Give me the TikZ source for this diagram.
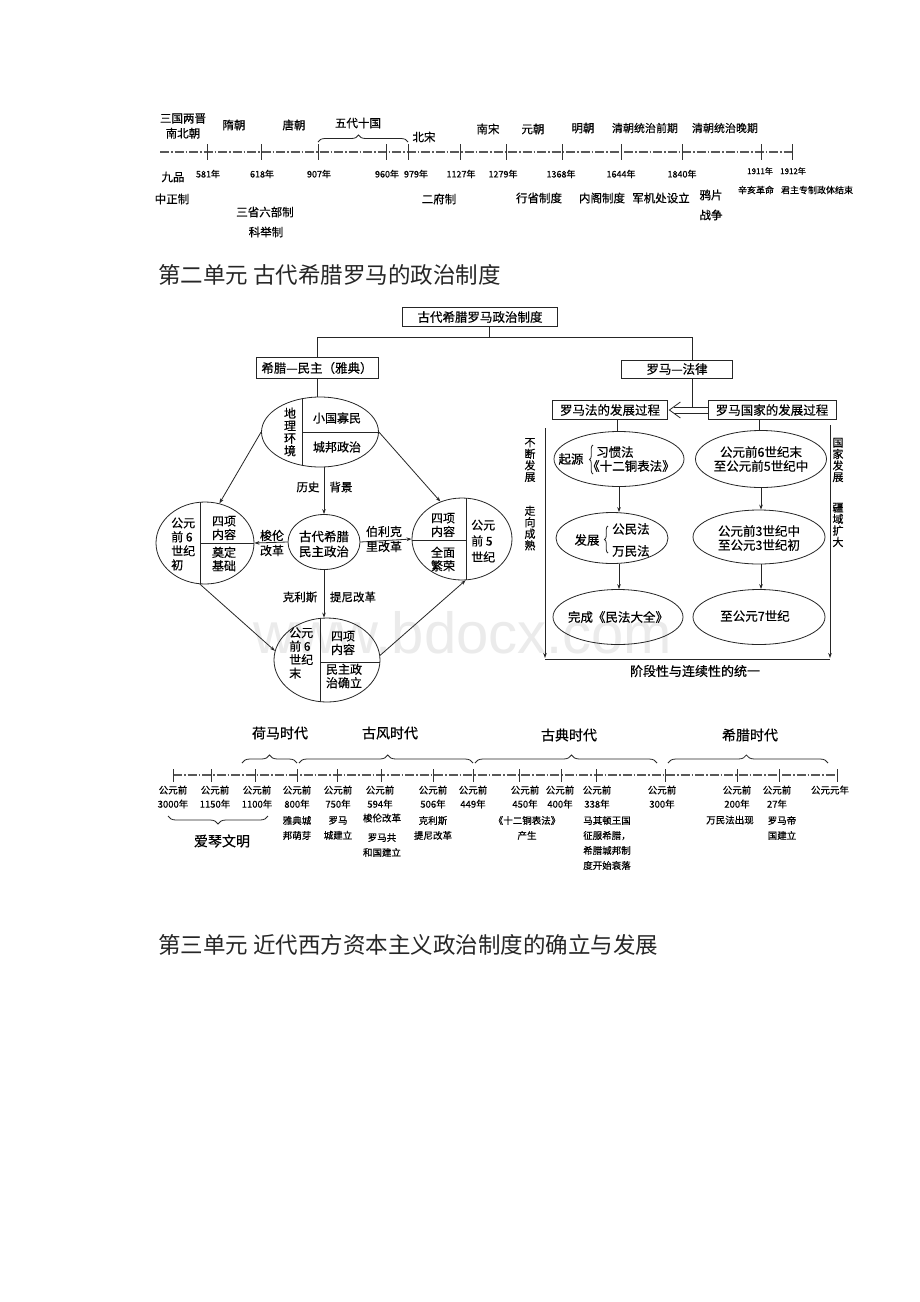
\documentclass[tikz,border=0pt]{standalone}
\usepackage{fontspec}
\setmainfont{Noto Sans CJK SC}
\newfontfamily\dfont{Noto Sans CJK SC}[FakeBold=0.5]
\newfontfamily\wmfont{Liberation Sans}
\newcommand{\dfz}[2]{\dfont\fontsize{#1}{#2}\selectfont}
\usetikzlibrary{shapes.geometric,arrows.meta,decorations.pathreplacing,calc}
\begin{document}
\begin{tikzpicture}[x=1pt,y=-1pt,
 ln/.style={line width=0.8pt, draw=black!85},
 arr/.style={ln, -{Stealth[length=5pt,width=3.6pt]}},
 tline/.style={line width=1.2pt, draw=black!65, dash pattern=on 9pt off 2pt on 1.5pt off 2pt},
 tick/.style={line width=0.9pt, draw=black!80},
 dyn/.style={inner sep=0pt, align=center, font=\dfz{11.5}{16}},
 yr/.style={inner sep=0pt, font=\dfz{9}{10}},
 small/.style={inner sep=0pt, align=center, font=\dfz{9}{11}},
 head/.style={inner sep=0pt, anchor=west, font=\fontsize{22.5}{24}\selectfont, text=black!85},
 box/.style={draw=black!85, line width=0.8pt, inner sep=0pt, minimum height=19pt, font=\dfz{12.5}{14}},
 ell/.style={draw=black!85, ellipse, line width=0.8pt, inner sep=0pt},
 etx/.style={inner sep=0pt, align=center, font=\dfz{12}{14}},
 qtx/.style={inner sep=0pt, align=center, font=\dfz{12.5}{14}},
 vtx/.style={inner sep=0pt, align=center, font=\dfz{11}{11.5}},
 bl/.style={inner sep=0pt, align=center, font=\dfz{9.5}{14}},
 bd/.style={inner sep=0pt, align=center, font=\dfz{9.5}{15}},
 per/.style={inner sep=0pt, font=\dfz{14}{16}},
 brc/.style={ln, decorate}
]
\fill[white] (0,0) rectangle (920,1302);
\useasboundingbox (0,0) rectangle (920,1302);

% watermark
\node[anchor=base west, inner sep=0pt, font=\wmfont\fontsize{58}{60}\selectfont, text=black!8] (wm) at (253,653) {www.bdocx.com};

% ---------------- top timeline ----------------
\coordinate (ta) at (160,152);
\coordinate (tb) at (792,152);
\draw[tline] (ta) -- (tb);
\foreach \x in {207,261,318,386,408,460,506,562,621,682,761,792} \draw[tick] (\x,144) -- (\x,160);
\draw[brc, decoration={brace, amplitude=7pt, aspect=0.45}] (318,142) -- (408,142);

\node[dyn] (n1) at (183,126) {三国两晋\\[-1pt]南北朝};
\node[dyn] (n2) at (234,125) {隋朝};
\node[dyn] (n3) at (294,125) {唐朝};
\node[dyn] (n4) at (358,123) {五代十国};
\node[dyn] (n5) at (424,137) {北宋};
\node[dyn] (n6) at (488,129) {南宋};
\node[dyn] (n7) at (533,129) {元朝};
\node[dyn] (n8) at (583,128) {明朝};
\node[dyn, font=\dfz{11}{16}] (n9) at (645,128) {清朝统治前期};
\node[dyn, font=\dfz{11}{16}] (n10) at (725,128) {清朝统治晚期};

\node[dyn] (c1) at (173,177) {九品};
\node[dyn] (c2) at (172,199) {中正制};
\node[yr] (y581) at (208,174) {581年};
\node[yr] (y618) at (262,174) {618年};
\node[yr] (y907) at (319,174) {907年};
\node[yr] (y960) at (387,174) {960年};
\node[yr] (y979) at (416,174) {979年};
\node[yr] (y1127) at (461,174) {1127年};
\node[yr] (y1279) at (503,174) {1279年};
\node[yr] (y1368) at (561,174) {1368年};
\node[yr] (y1644) at (621,174) {1644年};
\node[yr] (y1840) at (682,174) {1840年};
\node[yr, font=\dfz{8}{9}] (y1911) at (760,171) {1911年};
\node[yr, font=\dfz{8}{9}] (y1912) at (793,171) {1912年};
\node[dyn] (c3) at (265,212) {三省六部制};
\node[dyn] (c4) at (266,232) {科举制};
\node[dyn] (c5) at (439,199) {二府制};
\node[dyn] (c6) at (539,198) {行省制度};
\node[dyn] (c7) at (602,198) {内阁制度};
\node[dyn] (c8) at (661,198) {军机处设立};
\node[dyn, font=\dfz{11.5}{20}] (c9) at (711,205) {鸦片\\战争};
\node[small] (c10) at (756,190) {辛亥革命};
\node[small] (c11) at (817,190) {君主专制政体结束};

% ---------------- headings ----------------
\node[head] (h2) at (158,275) {第二单元 古代希腊罗马的政治制度};
\node[head] (h3) at (158,945) {第三单元 近代西方资本主义政治制度的确立与发展};

% ---------------- boxes ----------------
\node[box, minimum width=155pt] (T) at (480,317) {古代希腊罗马政治制度};
\node[box, minimum width=122pt, minimum height=21pt] (G) at (317,368) {希腊—民主（雅典）};
\node[box, minimum width=111pt, minimum height=18pt] (R) at (677,369) {罗马—法律};
\node[box, minimum width=115pt] (RL) at (610,410) {罗马法的发展过程};
\node[box, minimum width=128pt] (RS) at (772,410) {罗马国家的发展过程};
\draw[ln] ($(T.south)+(9,0)$) -- ++(0,11);
\draw[ln] (G.north) -- ++(0,-19.5) -| ($(R.north)+(15,0)$);
\draw[ln] ($(R.south)+(15,0)$) -- ++(0,29);
\draw[ln] ($(RS.west)+(0,-3)$) -- ($(RL.east)+(5.6,-3)$);
\draw[ln] ($(RS.west)+(0,3)$) -- ($(RL.east)+(5.6,3)$);
\draw[ln, line join=miter] ($(RL.east)+(12.5,-8)$) -- ($(RL.east)+(1.5,0)$) -- ($(RL.east)+(12.5,8)$);

% ---------------- Roman ellipses ----------------
\node[ell, minimum width=130pt, minimum height=55pt] (Q1) at (619,459) {};
\node[ell, minimum width=131pt, minimum height=57pt] (Q2) at (761,459) {};
\node[ell, minimum width=112pt, minimum height=51pt] (Q3) at (612,538) {};
\node[ell, minimum width=132pt, minimum height=54pt] (Q4) at (759,537) {};
\node[ell, minimum width=130pt, minimum height=55pt] (Q5) at (618,617) {};
\node[ell, minimum width=132pt, minimum height=55pt] (Q6) at (759,617) {};
\draw[ln, double distance=3pt] (Q1.north |- RL.south) -- (Q1.north);
\draw[ln, double distance=3pt] (Q2.north |- RS.south) -- (Q2.north);
\draw[arr] (Q1.south) -- (Q1.south |- Q3.north);
\draw[arr] (Q1.south |- Q3.south) -- (Q1.south |- Q5.north);
\draw[arr] (Q2.south) -- (Q2.south |- Q4.north);
\draw[arr] (Q2.south |- Q4.south) -- (Q2.south |- Q6.north);

\node[qtx] (q1a) at (571,459) {起源};
\draw[brc, decoration={brace, amplitude=3.5pt}] (593,474) -- (593,445);
\node[qtx, anchor=west] (q1b) at (596,452) {习惯法};
\node[qtx, anchor=west] (q1c) at (587,466) {《十二铜表法》};
\node[qtx] (q2) at (761,459) {公元前6世纪末\\至公元前5世纪中};
\node[qtx] (q3a) at (587,540) {发展};
\draw[brc, decoration={brace, amplitude=3.5pt}] (608,553) -- (608,526);
\node[qtx, anchor=west] (q3b) at (612,529) {公民法};
\node[qtx, anchor=west] (q3c) at (612,551) {万民法};
\node[qtx] (q4) at (759,538) {公元前3世纪中\\至公元3世纪初};
\node[qtx] (q5) at (618,617) {完成《民法大全》};
\node[qtx] (q6) at (755,616) {至公元7世纪};

\coordinate (Lt) at (545,428);
\coordinate (Lb) at (545,658);
\coordinate (Rt) at (830,425);
\coordinate (Rb) at (830,658);
\draw[arr] (Lt) -- (Lb);
\draw[arr] (Rt) -- (Rb);
\draw[ln] ($(Lb)+(0,1)$) -- ($(Rb)+(0,1)$);
\node[vtx] (v1) at (530,460) {不\\断\\发\\展};
\node[vtx] (v2) at (530,528) {走\\向\\成\\熟};
\node[vtx] (v3) at (838,460) {国\\家\\发\\展};
\node[vtx] (v4) at (838,525) {疆\\域\\扩\\大};
\node[qtx, font=\dfz{13}{14}] (unity) at (695,671) {阶段性与连续性的统一};

% ---------------- Greek ellipses ----------------
\node[ell, minimum width=117pt, minimum height=70pt] (e1) at (320,432) {};
\begin{scope}
\clip (320,432) ellipse (58.5 and 35);
\draw[ln] (302,390) -- (302,475);
\draw[ln] (302,432) -- (385,432);
\end{scope}
\node[vtx, font=\dfz{12}{12.5}] (e1a) at (290,432) {地\\理\\环\\境};
\node[etx] (e1b) at (337,418) {小国寡民};
\node[etx] (e1c) at (337,447) {城邦政治};

\node[ell, minimum width=72pt, minimum height=55pt] (eC) at (324,542) {};
\node[etx, font=\dfz{12.5}{15}] (eCt) at (324,544) {古代希腊\\民主政治};

\node[ell, minimum width=98pt, minimum height=82pt] (eL) at (205,543) {};
\begin{scope}
\clip (205,543) ellipse (49 and 41);
\draw[ln] (200,498) -- (200,590);
\draw[ln] (200,543) -- (260,543);
\end{scope}
\node[etx, anchor=west, align=left] (eLa) at (171,544) {公元\\前 6\\世纪\\初};
\node[etx, font=\dfz{12}{13.5}] (eLb) at (224,528) {四项\\内容};
\node[etx, font=\dfz{12}{13.5}] (eLc) at (224,559) {奠定\\基础};

\node[ell, minimum width=100pt, minimum height=82pt] (eR) at (462,539) {};
\begin{scope}
\clip (462,539) ellipse (50 and 41);
\draw[ln] (466,495) -- (466,585);
\draw[ln] (405,540) -- (466,540);
\end{scope}
\node[etx, font=\dfz{12}{13.5}] (eRa) at (443,525) {四项\\内容};
\node[etx, font=\dfz{12}{13.5}] (eRb) at (443,559) {全面\\繁荣};
\node[etx, anchor=west, align=left, font=\dfz{12}{16}] (eRc) at (471,541) {公元\\前 5\\世纪};

\node[ell, minimum width=106pt, minimum height=84pt] (eB) at (327,660) {};
\begin{scope}
\clip (327,660) ellipse (53 and 42);
\draw[ln] (320,612) -- (320,708);
\draw[ln] (320,662) -- (385,662);
\end{scope}
\node[etx, anchor=west, align=left, font=\dfz{12}{13.5}] (eBa) at (289,653) {公元\\前 6\\世纪\\末};
\node[etx, font=\dfz{12}{13.5}] (eBb) at (343,643) {四项\\内容};
\node[etx, font=\dfz{12}{13.5}] (eBc) at (344,676) {民主政\\治确立};

\draw[ln] (G.south) -- (G.south |- e1.north);
\draw[arr] (eC.north |- e1.south) -- (eC.north);
\node[dyn] (l1) at (308,487) {历史};
\node[dyn] (l2) at (341,487) {背景};
\draw[arr] (e1.west) -- (eL.70);
\draw[arr] (e1.east) -- (eR.120);
\draw[arr] (eC.west) -- (eL.east);
\draw[arr] (eC.east) -- (eR.west);
\draw[arr] (eC.south) -- (eC.south |- eB.north);
\draw[arr] (eL.263) -- (eB.170);
\draw[arr] (eB.5) -- (eR.275);
\node[etx, font=\dfz{12}{15}] (l3) at (272,543) {梭伦\\改革};
\node[etx, font=\dfz{12}{15}] (l4) at (384,539) {伯利克\\里改革};
\node[dyn] (l5) at (300,597) {克利斯};
\node[dyn] (l6) at (353,597) {提尼改革};

% ---------------- bottom timeline ----------------
\coordinate (ba) at (173,775);
\coordinate (bb) at (837,775);
\draw[tline] (ba) -- (bb);
\foreach \x in {173,211,255,297,337,381,433,473,519,561,596,665,737,779,837} \draw[tick] (\x,769) -- (\x,782);
\foreach \x/\y in {173/3000,215/1150,257/1100,297/800,338/750,380/594,433/506,473/449,525/450,560/400,597/338,662/300,737/200,777/27}
  \node[bl] (yb\x) at (\x,797) {公元前\\\y 年};
\node[bl] (yb0) at (830,790) {公元元年};

\node[bd] (d1) at (297,828) {雅典城\\邦萌芽};
\node[bd] (d2) at (338,828) {罗马\\城建立};
\node[bd] (d3) at (382,818) {梭伦改革};
\node[bd] (d4) at (382,845) {罗马共\\和国建立};
\node[bd] (d5) at (433,828) {克利斯\\提尼改革};
\node[bd] (d6) at (527,828) {《十二铜表法》\\产生};
\node[bd] (d7) at (607,843) {马其顿王国\\征服希腊，\\希腊城邦制\\度开始衰落};
\node[bd] (d8) at (730,820) {万民法出现};
\node[bd] (d9) at (782,828) {罗马帝\\国建立};

\node[per] (p1) at (280,733) {荷马时代};
\node[per] (p2) at (390,733) {古风时代};
\node[per] (p3) at (569,735) {古典时代};
\node[per] (p4) at (750,735) {希腊时代};
\node[per] (p5) at (222,841) {爱琴文明};
\draw[brc, decoration={brace, amplitude=8pt, aspect=0.5}] (242,763) -- (297,763);
\draw[brc, decoration={brace, amplitude=8pt, aspect=0.51}] (299,763) -- (473,763);
\draw[brc, decoration={brace, amplitude=8pt, aspect=0.53}] (475,763) -- (657,763);
\draw[brc, decoration={brace, amplitude=8pt, aspect=0.49}] (668,763) -- (828,763);
\draw[brc, decoration={brace, amplitude=8pt, aspect=0.5}] (268,816) -- (168,816);
\end{tikzpicture}
\end{document}
